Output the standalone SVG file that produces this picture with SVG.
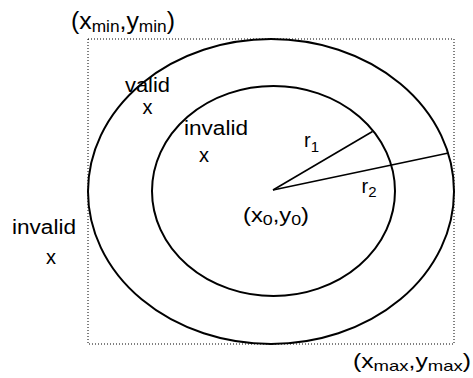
<svg xmlns="http://www.w3.org/2000/svg" width="473" height="378" viewBox="0 0 473 378">
<style>
  text { font-family: "Liberation Sans", Arial, sans-serif; font-size: 20px; fill: #000; }
  .big { font-size: 23px; }
  .sub { font-size: 15px; }
  .bigsub { font-size: 16px; }
  .curve { fill: none; stroke: #000; stroke-width: 2; }
  .radius { fill: none; stroke: #000; stroke-width: 1.6; }
  .bounds { fill: none; stroke: #000; stroke-width: 1; stroke-dasharray: 1 2; }
</style>
<rect width="473" height="378" fill="#fff"/>
<g id="bounds">
  <rect class="bounds" x="88" y="39" width="366" height="305"/>
  <text id="min-label" class="big" x="71" y="29" textLength="104" lengthAdjust="spacingAndGlyphs">(x<tspan class="bigsub" dy="3">min</tspan><tspan dy="-3">,y</tspan><tspan class="bigsub" dy="3">min</tspan><tspan dy="-3">)</tspan></text>
  <text id="max-label" x="353" y="368" textLength="118" lengthAdjust="spacingAndGlyphs">(x<tspan class="sub" dy="3">max</tspan><tspan dy="-3">,y</tspan><tspan class="sub" dy="3">max</tspan><tspan dy="-3">)</tspan></text>
</g>
<g id="outer-circle">
  <ellipse class="curve" cx="271" cy="191.5" rx="183" ry="152.5"/>
</g>
<g id="inner-circle">
  <ellipse class="curve" cx="273.5" cy="191" rx="121.5" ry="105"/>
</g>
<g id="connectors">
  <line class="radius" x1="273" y1="190" x2="372.5" y2="131.5"/>
  <line class="radius" x1="273" y1="190" x2="448.5" y2="153"/>
</g>
<g id="center">
  <text x="243" y="222" textLength="66" lengthAdjust="spacingAndGlyphs">(x<tspan class="sub" dy="3">0</tspan><tspan dy="-3">,y</tspan><tspan class="sub" dy="3">0</tspan><tspan dy="-3">)</tspan></text>
</g>
<g id="r1">
  <text x="304" y="147">r<tspan class="sub" dy="5">1</tspan></text>
</g>
<g id="r2">
  <text x="361.5" y="193">r<tspan class="sub" dy="4">2</tspan></text>
</g>
<g id="valid-point">
  <text x="125" y="92" textLength="45" lengthAdjust="spacingAndGlyphs">valid</text>
  <text x="147.5" y="113.5" text-anchor="middle">x</text>
</g>
<g id="inner-invalid-point">
  <text x="184" y="135" textLength="64" lengthAdjust="spacingAndGlyphs">invalid</text>
  <text x="204" y="161.5" text-anchor="middle">x</text>
</g>
<g id="outer-invalid-point">
  <text x="12" y="234" textLength="64" lengthAdjust="spacingAndGlyphs">invalid</text>
  <text x="51" y="263.5" text-anchor="middle">x</text>
</g>
</svg>
